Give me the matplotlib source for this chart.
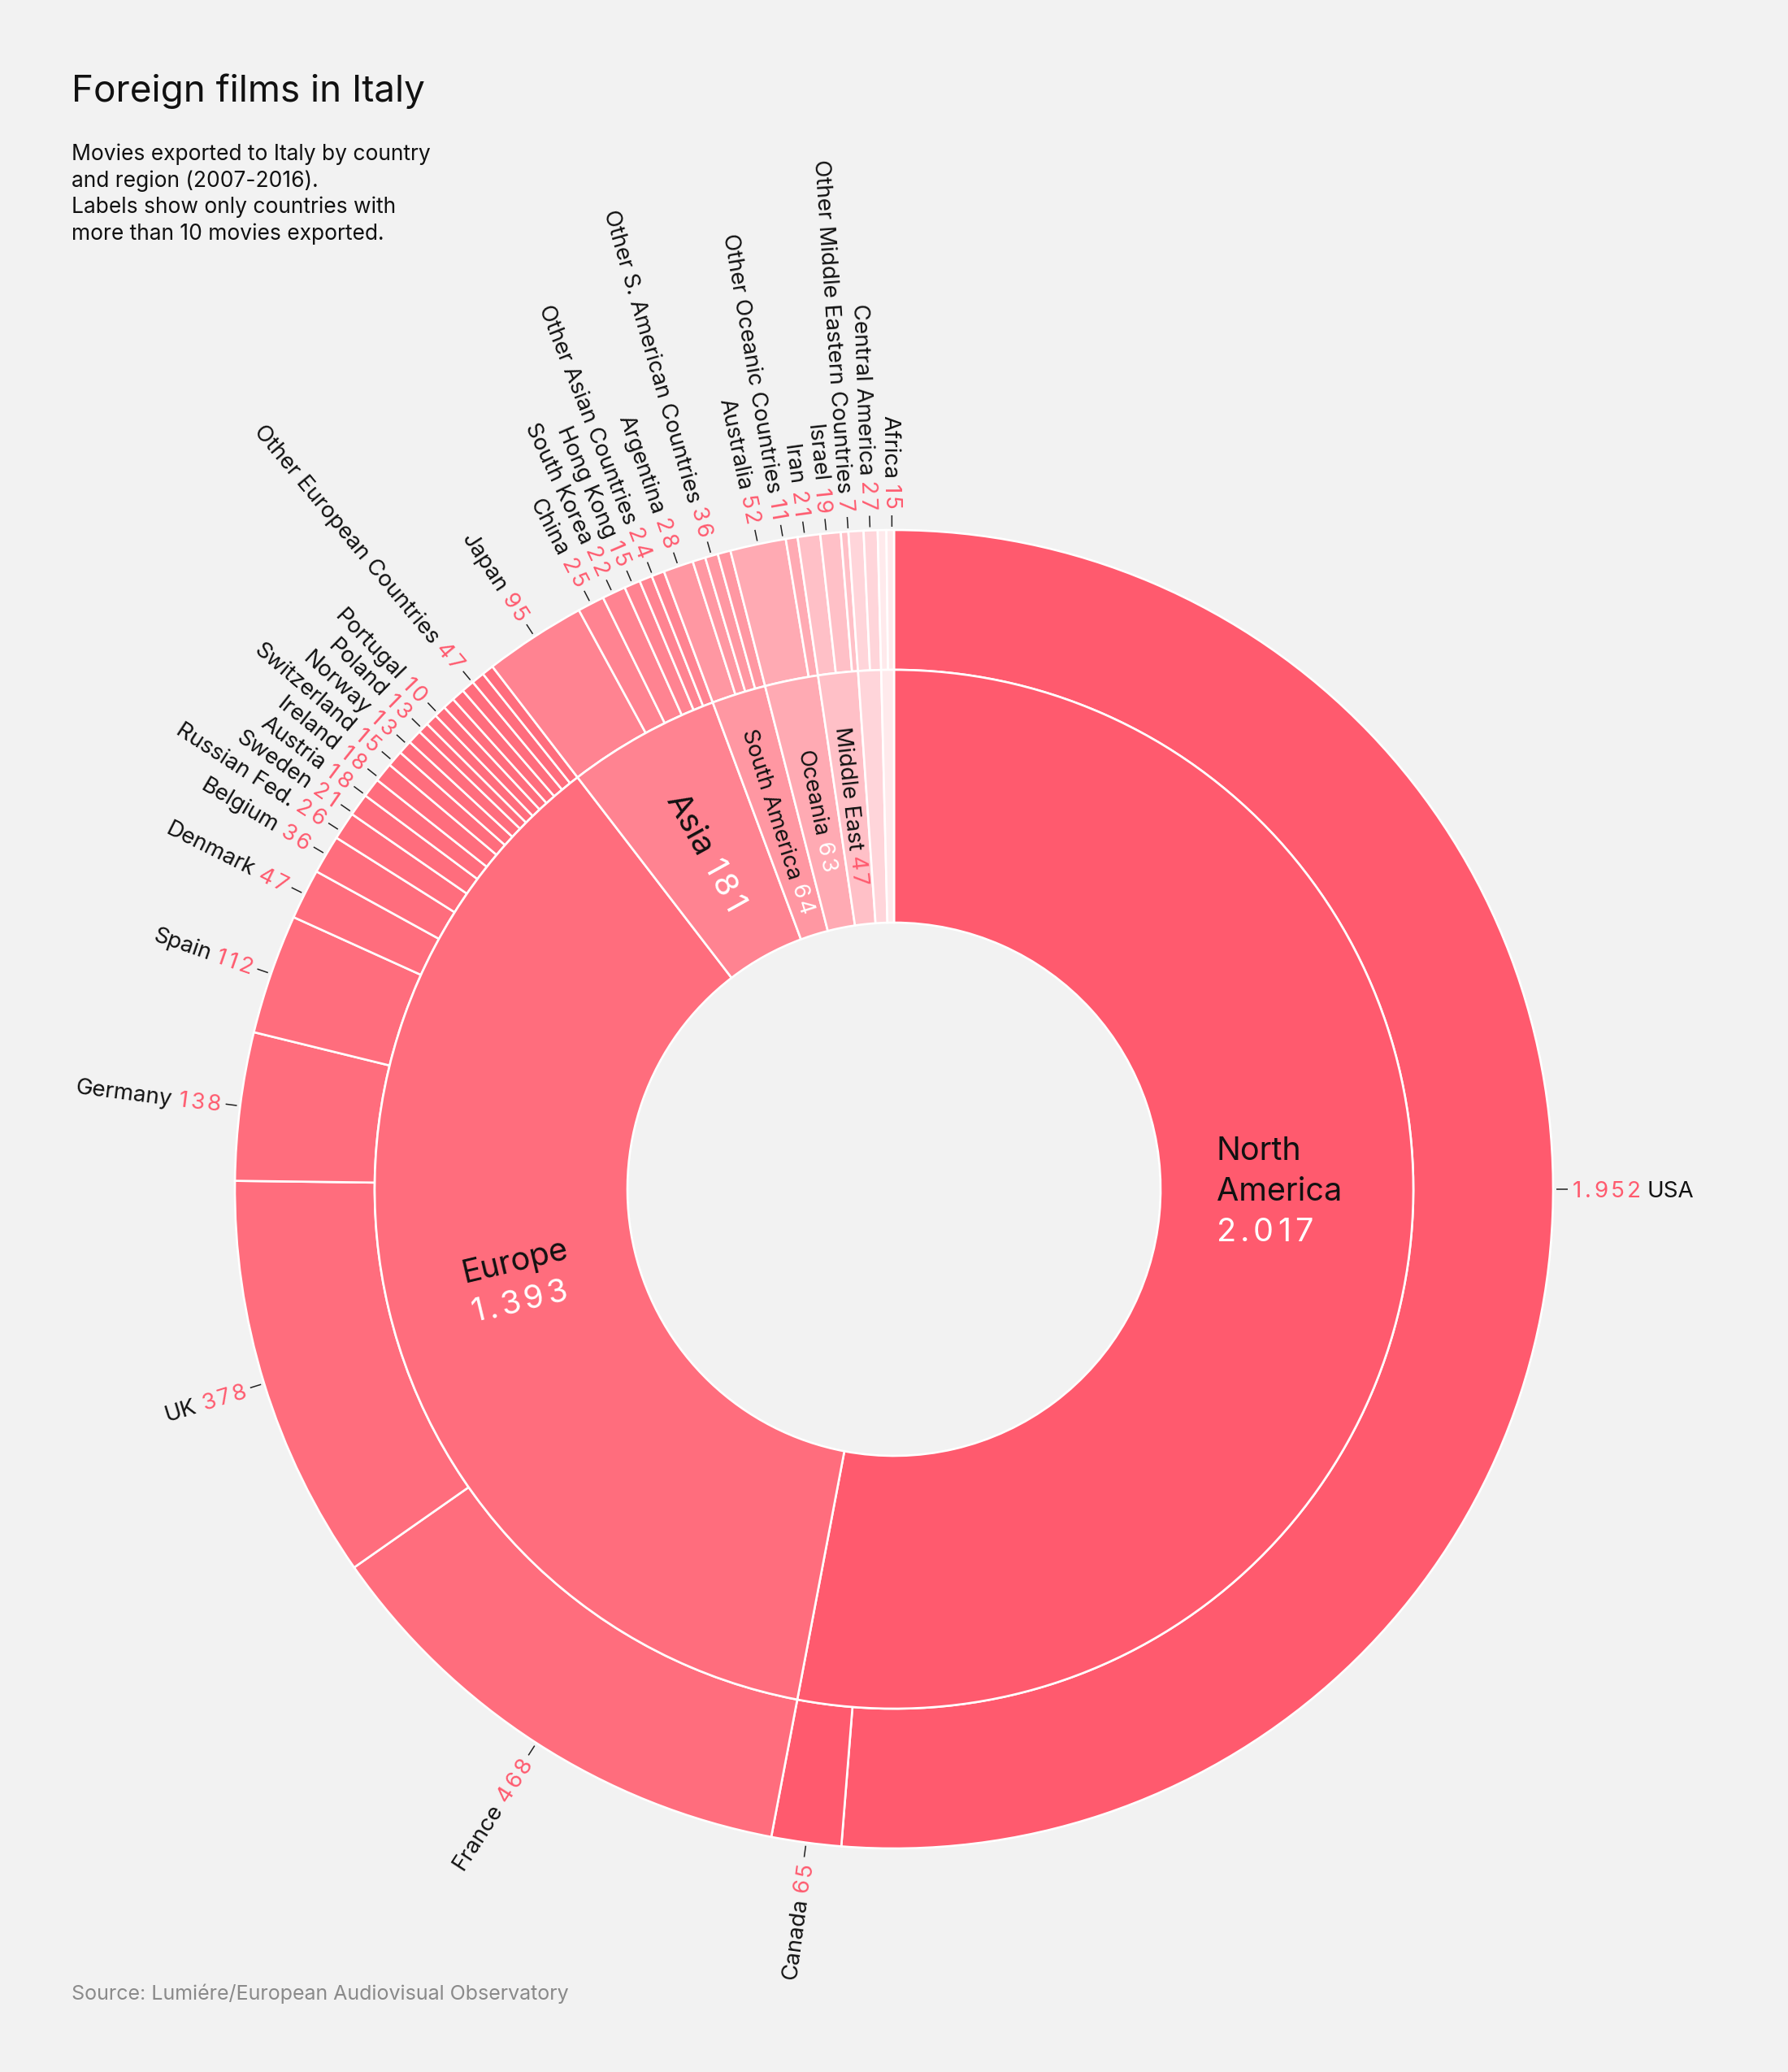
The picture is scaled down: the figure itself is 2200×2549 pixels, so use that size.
import numpy as np
import matplotlib
matplotlib.use("Agg")
import matplotlib.pyplot as plt
from matplotlib.font_manager import FontProperties

# ---------------- data ----------------
regions = ["North America", "Europe", "Asia", "South America", "Oceania",
           "Middle East", "Central America", "Africa"]
region_totals = [2017, 1393, 181, 64, 63, 47, 27, 15]
region_colors = ["#ff5a6e", "#ff6d7d", "#ff8391", "#ff97a2", "#ffaab3",
                 "#ffc0c7", "#ffd5da", "#ffeaec"]

countries = ["USA", "Canada",
             "France", "UK", "Germany", "Spain", "Denmark", "Belgium", "Russian Fed.",
             "Sweden", "Austria", "Ireland", "Switzerland", "Norway", "Poland", "Portugal",
             "", "", "", "Other European Countries",
             "Japan", "China", "South Korea", "Hong Kong", "Other Asian Countries",
             "Argentina", "Other S. American Countries",
             "Australia", "Other Oceanic Countries",
             "Iran", "Israel", "Other Middle Eastern Countries",
             "Central America", "Africa"]
country_values = [1952, 65,
                  468, 378, 138, 112, 47, 36, 26, 21, 18, 18, 15, 13, 13, 10,
                  11, 11, 11, 47,
                  95, 25, 22, 15, 24,
                  28, 36,
                  52, 11,
                  21, 19, 7,
                  27, 15]
country_region = [0, 0] + [1] * 18 + [2] * 5 + [3] * 2 + [4] * 2 + [5] * 3 + [6, 7]
# aggregated groups that are drawn as several thin slices
group_parts = {"Other European Countries": [12, 12, 12, 11],
               "Other Asian Countries": [12, 12],
               "Other S. American Countries": [12, 12, 12],
               "Central America": [14, 13],
               "Africa": [8, 7]}

title = "Foreign films in Italy"
subtitle = ["Movies exported to Italy by country",
            "and region (2007-2016).",
            "Labels show only countries with",
            "more than 10 movies exported."]
source = "Source: Lumiére/European Audiovisual Observatory"

# ---------------- layout ----------------
W, H = 2200, 2549
BG = "#f2f2f2"
RED = "#ff5a6e"
INK = "#111111"
FONT = ["Inter", "DejaVu Sans"]
plt.rcParams["font.family"] = FONT

fig = plt.figure(figsize=(W / 100, H / 100), dpi=100, facecolor=BG)
ax = fig.add_axes([0, 0, 1, 1])
ax.set_facecolor(BG)

CX, CY = 1100, H - 1463
R_OUT, R_MID, R_IN = 811, 639, 328
EDGE = dict(edgecolor="white", linewidth=1.9)

# leaves of outer ring
leaf_vals, leaf_cols, bounds = [], [], []
pos = 0
for name, val, reg in zip(countries, country_values, country_region):
    parts = group_parts.get(name, [val]) if name else [val]
    start = pos
    for p in parts:
        leaf_vals.append(p)
        leaf_cols.append(region_colors[reg])
        pos += p
    bounds.append((start, pos))
total = pos

ax.pie(leaf_vals, radius=R_OUT, center=(CX, CY), startangle=90, counterclock=False,
       colors=leaf_cols, wedgeprops=dict(width=R_OUT - R_MID, **EDGE))
ax.pie(region_totals, radius=R_MID, center=(CX, CY), startangle=90, counterclock=False,
       colors=region_colors, wedgeprops=dict(width=R_MID - R_IN, **EDGE))
ax.set_xlim(0, W)
ax.set_ylim(0, H)
ax.set_aspect("auto")
ax.axis("off")

renderer = fig.canvas.get_renderer()
TRACK = 0.12  # extra spacing (in em) between digits of the values


def tw(s, size):
    fp = FontProperties(family=FONT, size=size)
    w, h, d = renderer.get_text_width_height_descent(s, fp, ismath=False)
    return w


def space_w(size):
    return tw("a a", size) - tw("aa", size)


def fmt(v):
    return f"{v:,}".replace(",", ".")


def seg_w(seg, size):
    s, c, tracked = seg
    if s == " ":
        return space_w(size)
    if tracked:
        em = size * 100 / 72
        return sum(tw(ch, size) for ch in s) + TRACK * em * (len(s) - 1)
    return tw(s, size)


def draw_segs(segs, x0, y0, phi, size):
    """segments (text, color, tracked) drawn one after another from baseline point."""
    d = np.array([np.cos(np.radians(phi)), np.sin(np.radians(phi))])
    em = size * 100 / 72
    u = 0.0
    for seg in segs:
        s, c, tracked = seg
        if s == " ":
            u += space_w(size)
            continue
        pieces = list(s) if tracked else [s]
        for k, pc in enumerate(pieces):
            ax.text(x0 + u * d[0], y0 + u * d[1], pc, rotation=phi, rotation_mode="anchor",
                    ha="left", va="baseline", fontsize=size, color=c, family=FONT)
            u += tw(pc, size)
            if tracked and k < len(pieces) - 1:
                u += TRACK * em
    return u


def segs_width(segs, size):
    return sum(seg_w(sg, size) for sg in segs)


def cw2theta(cw):
    return (90 - cw) % 360


# ---------------- outer labels ----------------
OUT_SIZE = 20
em_out = OUT_SIZE * 100 / 72
labels = []
for name, val, (a, b) in zip(countries, country_values, bounds):
    if not name:
        continue
    span = (b - a) / total * 360
    mid = (a + b) / 2 / total * 360
    labels.append([name, val, mid, span])

# big slices: label horizontal
fixed = [l for l in labels if l[3] > 150]
free = sorted([l for l in labels if l[3] <= 150], key=lambda l: l[2])
for l in fixed:
    l[2] = 90.0 if np.cos(np.radians(cw2theta(l[2]))) > 0 else 270.0

ang = np.array([l[2] for l in free])
SEP = 1.9
for _ in range(3000):
    moved = False
    for i in range(len(ang) - 1):
        g = ang[i + 1] - ang[i]
        if g < SEP - 1e-6:
            sh = (SEP - g) / 2
            ang[i] -= sh * 0.5
            ang[i + 1] += sh * 0.5
            moved = True
    if not moved:
        break
for l, a in zip(free, ang):
    l[2] = a

R_T0, R_T1, R_TXT = R_OUT + 4, R_OUT + 18, R_OUT + 24
for name, val, cw, span in fixed + free:
    th = cw2theta(cw)
    c, s = np.cos(np.radians(th)), np.sin(np.radians(th))
    ax.plot([CX + R_T0 * c, CX + R_T1 * c], [CY + R_T0 * s, CY + R_T1 * s],
            color="#222222", lw=1.1, solid_capstyle="butt")
    voff = -0.36 * em_out
    if c < 0:
        phi = th - 180
        segs = [(name, INK, False), (" ", None, False), (fmt(val), RED, True)]
        r0 = R_TXT + segs_width(segs, OUT_SIZE)
    else:
        phi = th if th <= 180 else th - 360
        segs = [(fmt(val), RED, True), (" ", None, False), (name, INK, False)]
        r0 = R_TXT
    n = np.array([-np.sin(np.radians(phi)), np.cos(np.radians(phi))])
    x0 = CX + r0 * c + voff * n[0]
    y0 = CY + r0 * s + voff * n[1]
    draw_segs(segs, x0, y0, phi, OUT_SIZE)

# ---------------- inner labels ----------------
R_LAB = 474
inner_cfg = {  # region index: (size, layout, value color)
    0: (28.5, "block", "white"),
    1: (28.5, "block", "white"),
    2: (29, "line", "white"),
    3: (20, "line", "white"),
    4: (20, "line", "white"),
    5: (20, "line", RED),
}
cum = np.concatenate([[0], np.cumsum(region_totals)])
for ri, (size, layout, vcol) in inner_cfg.items():
    span = region_totals[ri] / total * 360
    mid = (cum[ri] + cum[ri + 1]) / 2 / total * 360
    if span > 150:
        th = 0.0
        phi = 0.0
    else:
        th = cw2theta(mid)
        phi = th - 180 if np.cos(np.radians(th)) < 0 else th
    c, s = np.cos(np.radians(th)), np.sin(np.radians(th))
    px, py = CX + R_LAB * c, CY + R_LAB * s
    d = np.array([np.cos(np.radians(phi)), np.sin(np.radians(phi))])
    n = np.array([-d[1], d[0]])
    em = size * 100 / 72
    name = regions[ri]
    if layout == "block":
        lines = [[(w, INK, False)] for w in name.split(" ")] + \
                [[(fmt(region_totals[ri]), vcol, True)]]
        lh = 1.26 * em
        wb = max(segs_width(ln, size) for ln in lines)
        nl = len(lines)
        for i, ln in enumerate(lines):
            v = ((nl - 1) / 2 - i) * lh - 0.36 * em
            x0 = px - wb / 2 * d[0] + v * n[0]
            y0 = py - wb / 2 * d[1] + v * n[1]
            draw_segs(ln, x0, y0, phi, size)
    else:
        segs = [(name, INK, False), (" ", None, False), (fmt(region_totals[ri]), vcol, True)]
        wt = segs_width(segs, size)
        v = -0.36 * em
        x0 = px - wt / 2 * d[0] + v * n[0]
        y0 = py - wt / 2 * d[1] + v * n[1]
        draw_segs(segs, x0, y0, phi, size)

# ---------------- titles ----------------
ax.text(88, H - 125, title, fontsize=33, color=INK, ha="left", va="baseline")
for i, line in enumerate(subtitle):
    ax.text(88, H - (197 + i * 32.7), line, fontsize=19, color=INK,
            ha="left", va="baseline")
ax.text(88, H - 2460, source, fontsize=18, color="#8a8a8a", ha="left", va="baseline")

fig.savefig("out.png", dpi=100, facecolor=BG)
